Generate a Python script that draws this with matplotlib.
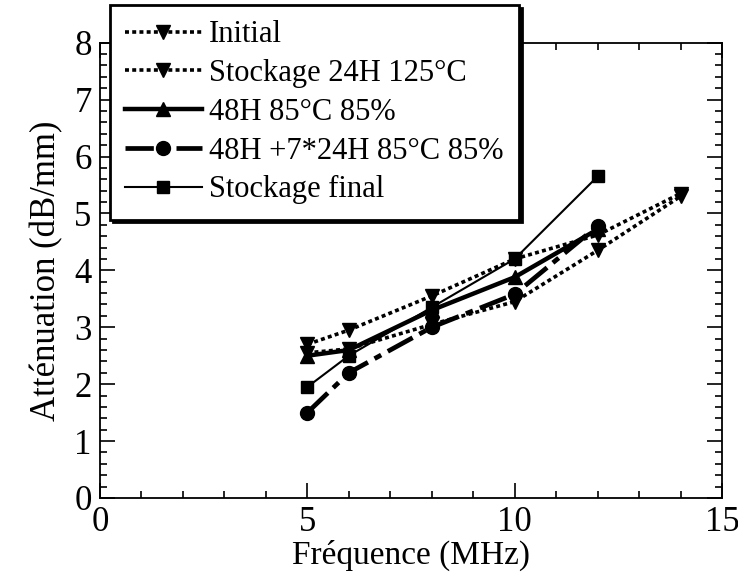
import matplotlib
matplotlib.use("Agg")
import matplotlib.pyplot as plt
from matplotlib.ticker import MultipleLocator

plt.rcParams['font.family'] = 'serif'
plt.rcParams['font.serif'] = ['Liberation Serif', 'Times New Roman', 'Nimbus Roman', 'DejaVu Serif']

# Fréquence (MHz)
freq_long = [5, 6, 8, 10, 12, 14]
freq_short = [5, 6, 8, 10, 12]

# Atténuation (dB/mm) for each ageing condition
initial = [2.7, 2.95, 3.55, 4.2, 4.62, 5.35]
stockage_24h = [2.55, 2.62, 3.05, 3.45, 4.35, 5.3]
h48_85 = [2.5, 2.6, 3.3, 3.88, 4.72]
h48_7x24 = [1.5, 2.2, 3.0, 3.58, 4.78]
stockage_final = [1.95, 2.5, 3.35, 4.2, 5.65]

labels = ["Initial", "Stockage 24H 125°C", "48H 85°C 85%",
          "48H +7*24H 85°C 85%", "Stockage final"]

fig = plt.figure(figsize=(7.38, 5.77), dpi=100)
ax = fig.add_axes([100/738, 1 - 498/577, 622/738, (498 - 42.7)/577])

l1, = ax.plot(freq_long, initial, color='k', lw=2.6, ls=(0, (1.1, 0.9)),
              marker='v', ms=10, label=labels[0])
l2, = ax.plot(freq_long, stockage_24h, color='k', lw=2.6, ls=(0, (1.1, 0.9)),
              marker='v', ms=10, label=labels[1])
l3, = ax.plot(freq_short, h48_85, color='k', lw=3.2, ls='-',
              marker='^', ms=10, label=labels[2])
l4, = ax.plot(freq_short, h48_7x24, color='k', lw=3.4,
              ls=(0, (6, 1.6, 1.6, 1.6)), marker='o', ms=10, label=labels[3])
l5, = ax.plot(freq_short, stockage_final, color='k', lw=1.5, ls='-',
              marker='s', ms=9, label=labels[4])

ax.set_xlim(0, 15)
ax.set_ylim(0, 8)
ax.xaxis.set_major_locator(MultipleLocator(5))
ax.xaxis.set_minor_locator(MultipleLocator(1))
ax.yaxis.set_major_locator(MultipleLocator(1))
ax.yaxis.set_minor_locator(MultipleLocator(0.2))
ax.tick_params(which='both', direction='in', top=True, right=True,
               labelsize=25, width=1.2, pad=6)
ax.tick_params(which='major', length=11)
ax.tick_params(which='minor', length=5)
for s in ax.spines.values():
    s.set_linewidth(1.3)

ax.set_xlabel("Fréquence (MHz)", fontsize=24, labelpad=0)
ax.set_ylabel("Atténuation (dB/mm)", fontsize=25, labelpad=8)

leg = fig.legend(handles=[l1, l2, l3, l4, l5], loc='upper left',
                 bbox_to_anchor=(110/738, 1 - 5/577), borderaxespad=0,
                 fontsize=22, numpoints=1, handlelength=2.5,
                 handletextpad=0.25, labelspacing=0.32, borderpad=0.5,
                 fancybox=False, framealpha=1, edgecolor='k',
                 shadow={'color': 'k', 'alpha': 1})
leg.get_frame().set_linewidth(2)

fig.savefig("out.png", dpi=100)
